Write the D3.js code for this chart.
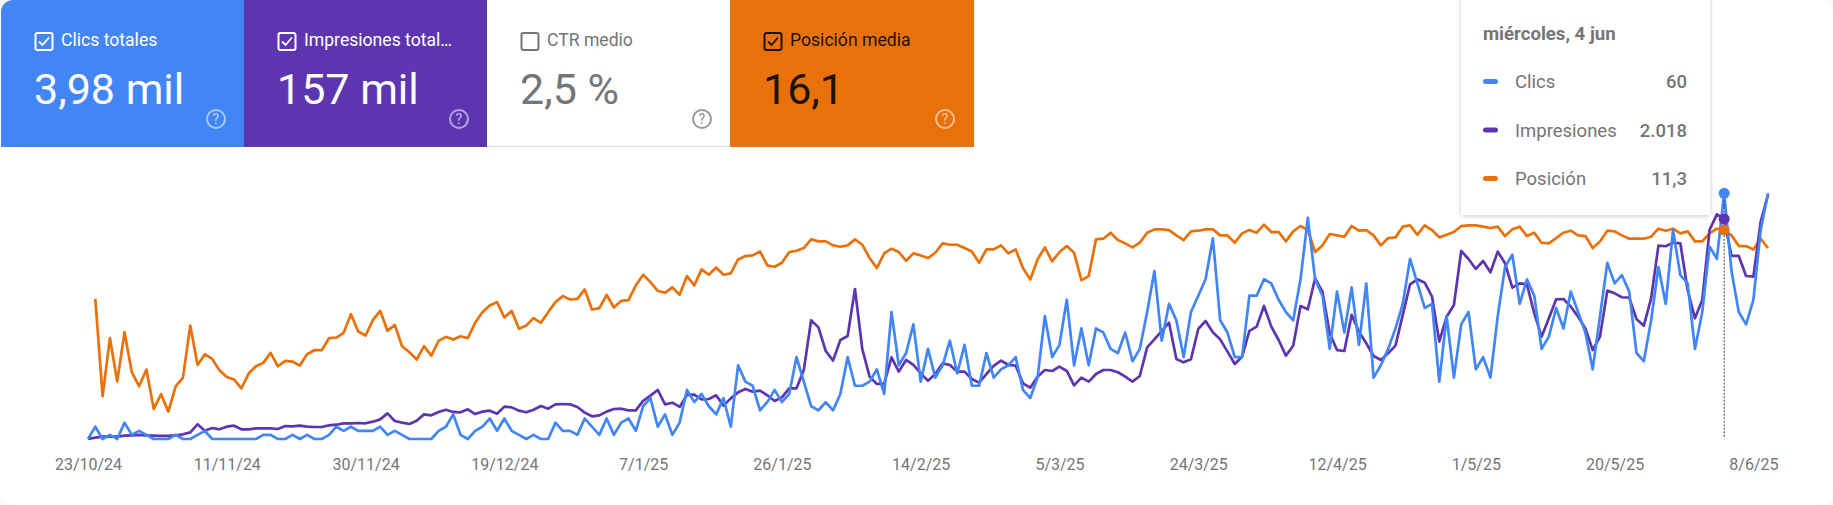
<!DOCTYPE html>
<html>
<head>
<meta charset="utf-8">
<script src="https://cdn.jsdelivr.net/npm/d3@7"></script>
<style>
  html, body { margin: 0; padding: 0; background: #f7f8f8; overflow: hidden; }
  svg { display: block; font-family: Roboto, sans-serif; }
</style>
</head>
<body>
<div id="chart"></div>
<script>
const cardLabels = ['Clics totales', 'Impresiones total…', 'CTR medio', 'Posición media'];
const cardValues = ['3,98 mil', '157 mil', '2,5 %', '16,1'];
const cardChecked = [true, true, false, true];
const cardFills = ['#4285f4', '#5e35b1', '#ffffff', '#e8710a'];
const cardInks = ['#ffffff', '#ffffff', '#757575', '#1f1204'];

const tickLabels = ['23/10/24', '11/11/24', '30/11/24', '19/12/24', '7/1/25', '26/1/25', '14/2/25',
  '5/3/25', '24/3/25', '12/4/25', '1/5/25', '20/5/25', '8/6/25'];

const tooltipTitle = 'miércoles, 4 jun';
const tooltipNames = ['Clics', 'Impresiones', 'Posición'];
const tooltipValues = ['60', '2.018', '11,3'];
const hoverDate = '4/6/25';

const clicks = [
  0, 3, 0, 1, 0, 4, 1, 2, 1, 0,
  0, 0, 1, 0, 0, 1, 2, 0, 0, 0,
  0, 0, 0, 0, 1, 1, 0, 0, 1, 0,
  1, 0, 0, 1, 3, 2, 3, 2, 2, 2,
  3, 1, 2, 1, 0, 0, 0, 0, 2, 3,
  6, 1, 0, 2, 3, 5, 2, 5, 2, 1,
  0, 1, 0, 0, 4, 2, 2, 1, 5, 3,
  1, 5, 1, 4, 5, 2, 8, 10, 3, 6,
  1, 4, 12, 9, 11, 8, 6, 10, 3, 18,
  14, 13, 7, 9, 12, 9, 11, 20, 14, 8,
  7, 9, 7, 11, 20, 13, 13, 14, 17, 11,
  31, 18, 21, 28, 14, 22, 15, 18, 24, 16,
  23, 13, 13, 21, 15, 17, 18, 20, 12, 10,
  15, 30, 20, 23, 34, 18, 27, 18, 27, 26,
  22, 21, 26, 19, 22, 31, 41, 24, 33, 29,
  20, 31, 35, 39, 49, 29, 26, 20, 20, 35,
  35, 39, 38, 34, 31, 29, 39, 54, 39, 35,
  22, 36, 26, 37, 23, 38, 15, 18, 22, 27,
  33, 44, 38, 32, 33, 14, 30, 15, 28, 31,
  17, 20, 15, 30, 42, 45, 33, 39, 35, 22,
  25, 32, 27, 36, 31, 26, 17, 30, 43, 38,
  40, 36, 21, 19, 29, 42, 33, 51, 40, 38,
  22, 31, 47, 44, 60, 41, 31, 28, 34, 51,
  60
];

const impressions = [
  0, 12, 21, 21, 21, 31, 34, 37, 34, 31,
  28, 28, 34, 43, 61, 135, 76, 101, 89, 113,
  122, 89, 89, 98, 98, 98, 92, 119, 116, 122,
  113, 110, 110, 125, 131, 144, 144, 147, 144, 159,
  180, 235, 165, 150, 138, 168, 226, 217, 248, 269,
  248, 245, 272, 229, 251, 260, 232, 297, 290, 260,
  245, 269, 303, 278, 318, 321, 318, 294, 242, 208,
  217, 251, 275, 278, 263, 263, 349, 398, 450, 318,
  333, 294, 404, 407, 364, 367, 401, 306, 373, 428,
  459, 434, 443, 401, 349, 382, 465, 465, 633, 1089,
  1024, 807, 719, 908, 945, 1376, 826, 572, 505, 505,
  749, 618, 725, 679, 602, 535, 596, 694, 679, 618,
  618, 550, 517, 596, 670, 719, 679, 673, 511, 471,
  572, 633, 624, 664, 624, 492, 563, 526, 596, 633,
  633, 612, 572, 526, 578, 841, 914, 991, 1067, 734,
  703, 731, 1009, 1083, 979, 914, 801, 688, 755, 991,
  1031, 1220, 1031, 908, 765, 856, 1220, 1190, 1474, 1352,
  969, 816, 807, 1138, 985, 878, 761, 725, 786, 856,
  1138, 1419, 1465, 1434, 1306, 893, 1122, 1229, 1725, 1651,
  1560, 1633, 1529, 1719, 1612, 1388, 1428, 1419, 1153, 939,
  1107, 1281, 1284, 1214, 1122, 1015, 816, 939, 1361, 1336,
  1300, 1297, 1098, 1040, 1290, 1774, 1768, 1801, 1795, 1367,
  1107, 1275, 1917, 2061, 2018, 1679, 1679, 1495, 1489, 1994,
  2238
];

const positions = [
  null, 21.6, 36.2, 27.5, 34.0, 26.6, 32.6, 34.7, 32.2, 38.1,
  35.9, 38.5, 34.7, 33.4, 25.6, 31.5, 29.9, 30.6, 32.3, 33.3,
  33.7, 35.0, 32.8, 31.7, 31.2, 29.7, 31.7, 30.9, 31.0, 31.6,
  29.9, 29.3, 29.3, 27.5, 27.4, 26.7, 23.9, 26.5, 27.1, 24.8,
  23.4, 26.4, 25.5, 28.7, 29.6, 30.7, 28.7, 30.1, 27.9, 27.3,
  27.7, 27.2, 27.5, 25.2, 23.6, 22.6, 22.1, 24.4, 23.4, 26.1,
  25.6, 24.5, 25.2, 23.6, 22.1, 21.2, 21.7, 21.6, 20.2, 23.2,
  23.0, 21.0, 22.9, 21.9, 21.8, 19.6, 18.0, 19.1, 20.4, 20.7,
  19.9, 21.0, 18.2, 19.6, 17.2, 18.0, 16.9, 18.0, 17.8, 15.7,
  15.2, 15.1, 14.5, 16.6, 16.8, 16.2, 14.6, 14.4, 14.0, 12.7,
  13.0, 13.0, 13.6, 13.8, 13.6, 12.7, 13.5, 15.5, 17.0, 14.8,
  14.1, 14.6, 15.9, 14.8, 15.1, 15.5, 14.7, 13.3, 13.5, 13.5,
  14.0, 14.5, 16.2, 14.2, 14.2, 13.6, 14.8, 14.2, 17.0, 18.7,
  15.7, 13.9, 16.0, 14.6, 13.7, 14.7, 18.8, 18.2, 12.7, 12.6,
  11.7, 12.8, 13.3, 13.9, 13.2, 11.7, 11.2, 11.2, 11.3, 12.1,
  12.8, 11.5, 11.4, 11.2, 11.2, 12.1, 12.1, 13.2, 11.8, 11.3,
  11.7, 10.5, 11.6, 11.6, 13.0, 11.5, 10.7, 11.3, 14.6, 13.6,
  11.9, 12.1, 12.3, 10.7, 11.4, 11.3, 12.1, 13.6, 12.5, 12.4,
  10.8, 10.6, 12.0, 10.6, 11.3, 12.4, 12.0, 11.6, 10.7, 10.6,
  10.6, 10.8, 11.0, 10.8, 12.2, 11.2, 10.8, 12.2, 11.7, 13.2,
  13.3, 12.5, 11.7, 11.4, 12.1, 12.2, 14.0, 13.0, 11.4, 11.5,
  12.1, 12.6, 12.6, 12.6, 12.3, 11.1, 11.4, 11.1, 11.8, 11.5,
  13.0, 13.0, 11.8, 11.1, 11.3, 12.1, 13.7, 13.7, 14.2, 12.6,
  14.0
];

const width = 1833;
const height = 505;

const svg = d3.select('#chart').append('svg')
  .attr('width', width)
  .attr('height', height);

// page card with rounded corners
svg.append('rect')
  .attr('width', width)
  .attr('height', height)
  .attr('rx', 12)
  .attr('fill', '#ffffff');

// metric cards
const cardW = 243;
const cardH = 147;

const cardClip = svg.append('clipPath').attr('id', 'card-clip');
cardClip.append('rect').attr('x', 1).attr('width', width).attr('height', height).attr('rx', 12);

const cards = svg.append('g').attr('clip-path', 'url(#card-clip)')
  .selectAll('g')
  .data(cardLabels)
  .enter()
  .append('g')
  .attr('transform', (d, i) => 'translate(' + (i * cardW + 1) + ', 0)');

cards.append('rect')
  .attr('width', cardW + 1)
  .attr('height', cardH)
  .attr('fill', (d, i) => cardFills[i]);

cards.filter((d, i) => i === 2).append('line')
  .attr('x1', 0).attr('x2', cardW)
  .attr('y1', cardH - 0.5).attr('y2', cardH - 0.5)
  .attr('stroke', '#dadce0');

cards.append('rect')
  .attr('x', 34.5).attr('y', 33)
  .attr('width', 17).attr('height', 17)
  .attr('rx', 2)
  .attr('fill', 'none')
  .attr('stroke', (d, i) => cardInks[i])
  .attr('stroke-width', 2);

cards.filter((d, i) => cardChecked[i]).append('path')
  .attr('d', 'M38 41.5l3.5 3.5 6.5-7.5')
  .attr('fill', 'none')
  .attr('stroke', (d) => cardInks[cardLabels.indexOf(d)])
  .attr('stroke-width', 1.8);

cards.append('text')
  .attr('x', 60).attr('y', 46)
  .attr('fill', (d, i) => cardInks[i])
  .style('font-size', '17.6px')
  .text((d) => d);

cards.append('text')
  .attr('x', 33).attr('y', 104)
  .attr('fill', (d, i) => cardInks[i])
  .style('font-size', '43px')
  .text((d, i) => cardValues[i]);

const helpIcon = cards.append('g')
  .attr('transform', 'translate(215, 119)')
  .attr('opacity', (d, i) => i === 2 ? 0.75 : 0.55);

helpIcon.append('circle')
  .attr('r', 9)
  .attr('fill', 'none')
  .attr('stroke', (d, i) => i === 3 ? '#ffffff' : cardInks[i])
  .attr('stroke-width', 2);

helpIcon.append('text')
  .attr('y', 5)
  .attr('text-anchor', 'middle')
  .attr('fill', (d, i) => i === 3 ? '#ffffff' : cardInks[i])
  .style('font-size', '14px')
  .style('font-weight', 500)
  .text('?');

// chart
const parseDate = d3.utcParse('%d/%m/%y');
const startDate = parseDate(tickLabels[0]);
const dateAt = (i) => d3.utcDay.offset(startDate, i);

const x = d3.scaleUtc()
  .domain([startDate, dateAt(clicks.length - 1)])
  .range([88, 1768]);

const yClicks = d3.scaleLinear().domain([0, 60]).range([439, 193.3]);
const yImpressions = d3.scaleLinear().domain([0, 2018]).range([439, 219]);
const yPositions = d3.scaleLinear().domain([0, 42.6]).range([154.6, 439]);

const lineSeries = (values, y) => d3.line()
  .defined((d) => d !== null)
  .x((d, i) => x(dateAt(i)))
  .y((d) => y(d))(values);

const series = [
  { values: positions, y: yPositions, color: '#e8710a' },
  { values: impressions, y: yImpressions, color: '#5e35b1' },
  { values: clicks, y: yClicks, color: '#4285f4' }
];

svg.append('g')
  .selectAll('path')
  .data(series)
  .enter()
  .append('path')
  .attr('d', (d) => lineSeries(d.values, d.y))
  .attr('fill', 'none')
  .attr('stroke', (d) => d.color)
  .attr('stroke-width', 2.7)
  .attr('stroke-linejoin', 'round');

const xAxis = d3.axisBottom(x)
  .tickValues(tickLabels.map(parseDate))
  .tickFormat((d, i) => tickLabels[i])
  .tickSize(0)
  .tickPadding(0);

const axisGroup = svg.append('g')
  .attr('transform', 'translate(0, 459)')
  .call(xAxis);

axisGroup.select('.domain').remove();
axisGroup.selectAll('text')
  .attr('fill', '#757575')
  .style('font-family', 'Roboto, sans-serif')
  .style('font-size', '16px');

// hover marker
const hoverIndex = d3.utcDay.count(startDate, parseDate(hoverDate));
const hoverX = x(dateAt(hoverIndex));

svg.append('line')
  .attr('x1', hoverX).attr('x2', hoverX)
  .attr('y1', yClicks(clicks[hoverIndex])).attr('y2', 437)
  .attr('stroke', '#3c4043')
  .attr('stroke-width', 1)
  .attr('stroke-dasharray', '2 1.5');

svg.append('g')
  .selectAll('circle')
  .data(series)
  .enter()
  .append('circle')
  .attr('cx', hoverX)
  .attr('cy', (d) => d.y(d.values[hoverIndex]))
  .attr('r', 5.5)
  .attr('fill', (d) => d.color);

// tooltip
const shadow = svg.append('defs').append('filter')
  .attr('id', 'tip-shadow')
  .attr('x', '-10%').attr('y', '-10%')
  .attr('width', '120%').attr('height', '120%');

shadow.append('feDropShadow')
  .attr('dx', 0).attr('dy', 1)
  .attr('stdDeviation', 2.5)
  .attr('flood-color', '#000000')
  .attr('flood-opacity', 0.22);

const tooltip = svg.append('g').attr('transform', 'translate(1461, 0)');

tooltip.append('rect')
  .attr('y', -10)
  .attr('width', 249)
  .attr('height', 225)
  .attr('rx', 2)
  .attr('fill', '#ffffff')
  .attr('filter', 'url(#tip-shadow)');

tooltip.append('text')
  .attr('x', 22).attr('y', 40)
  .attr('fill', '#757575')
  .style('font-size', '18.6px')
  .style('font-weight', 700)
  .text(tooltipTitle);

const rows = tooltip.selectAll('g.row')
  .data(tooltipNames)
  .enter()
  .append('g')
  .attr('class', 'row')
  .attr('transform', (d, i) => 'translate(0, ' + (88 + i * 48.5) + ')');

rows.append('rect')
  .attr('x', 22).attr('y', -9)
  .attr('width', 15).attr('height', 5)
  .attr('rx', 2.5)
  .attr('fill', (d, i) => series[2 - i].color);

rows.append('text')
  .attr('x', 54)
  .attr('fill', '#757575')
  .style('font-size', '18.5px')
  .text((d) => d);

rows.append('text')
  .attr('x', 226)
  .attr('text-anchor', 'end')
  .attr('fill', '#757575')
  .style('font-size', '18.5px')
  .style('font-weight', 500)
  .text((d, i) => tooltipValues[i]);
</script>
</body>
</html>
